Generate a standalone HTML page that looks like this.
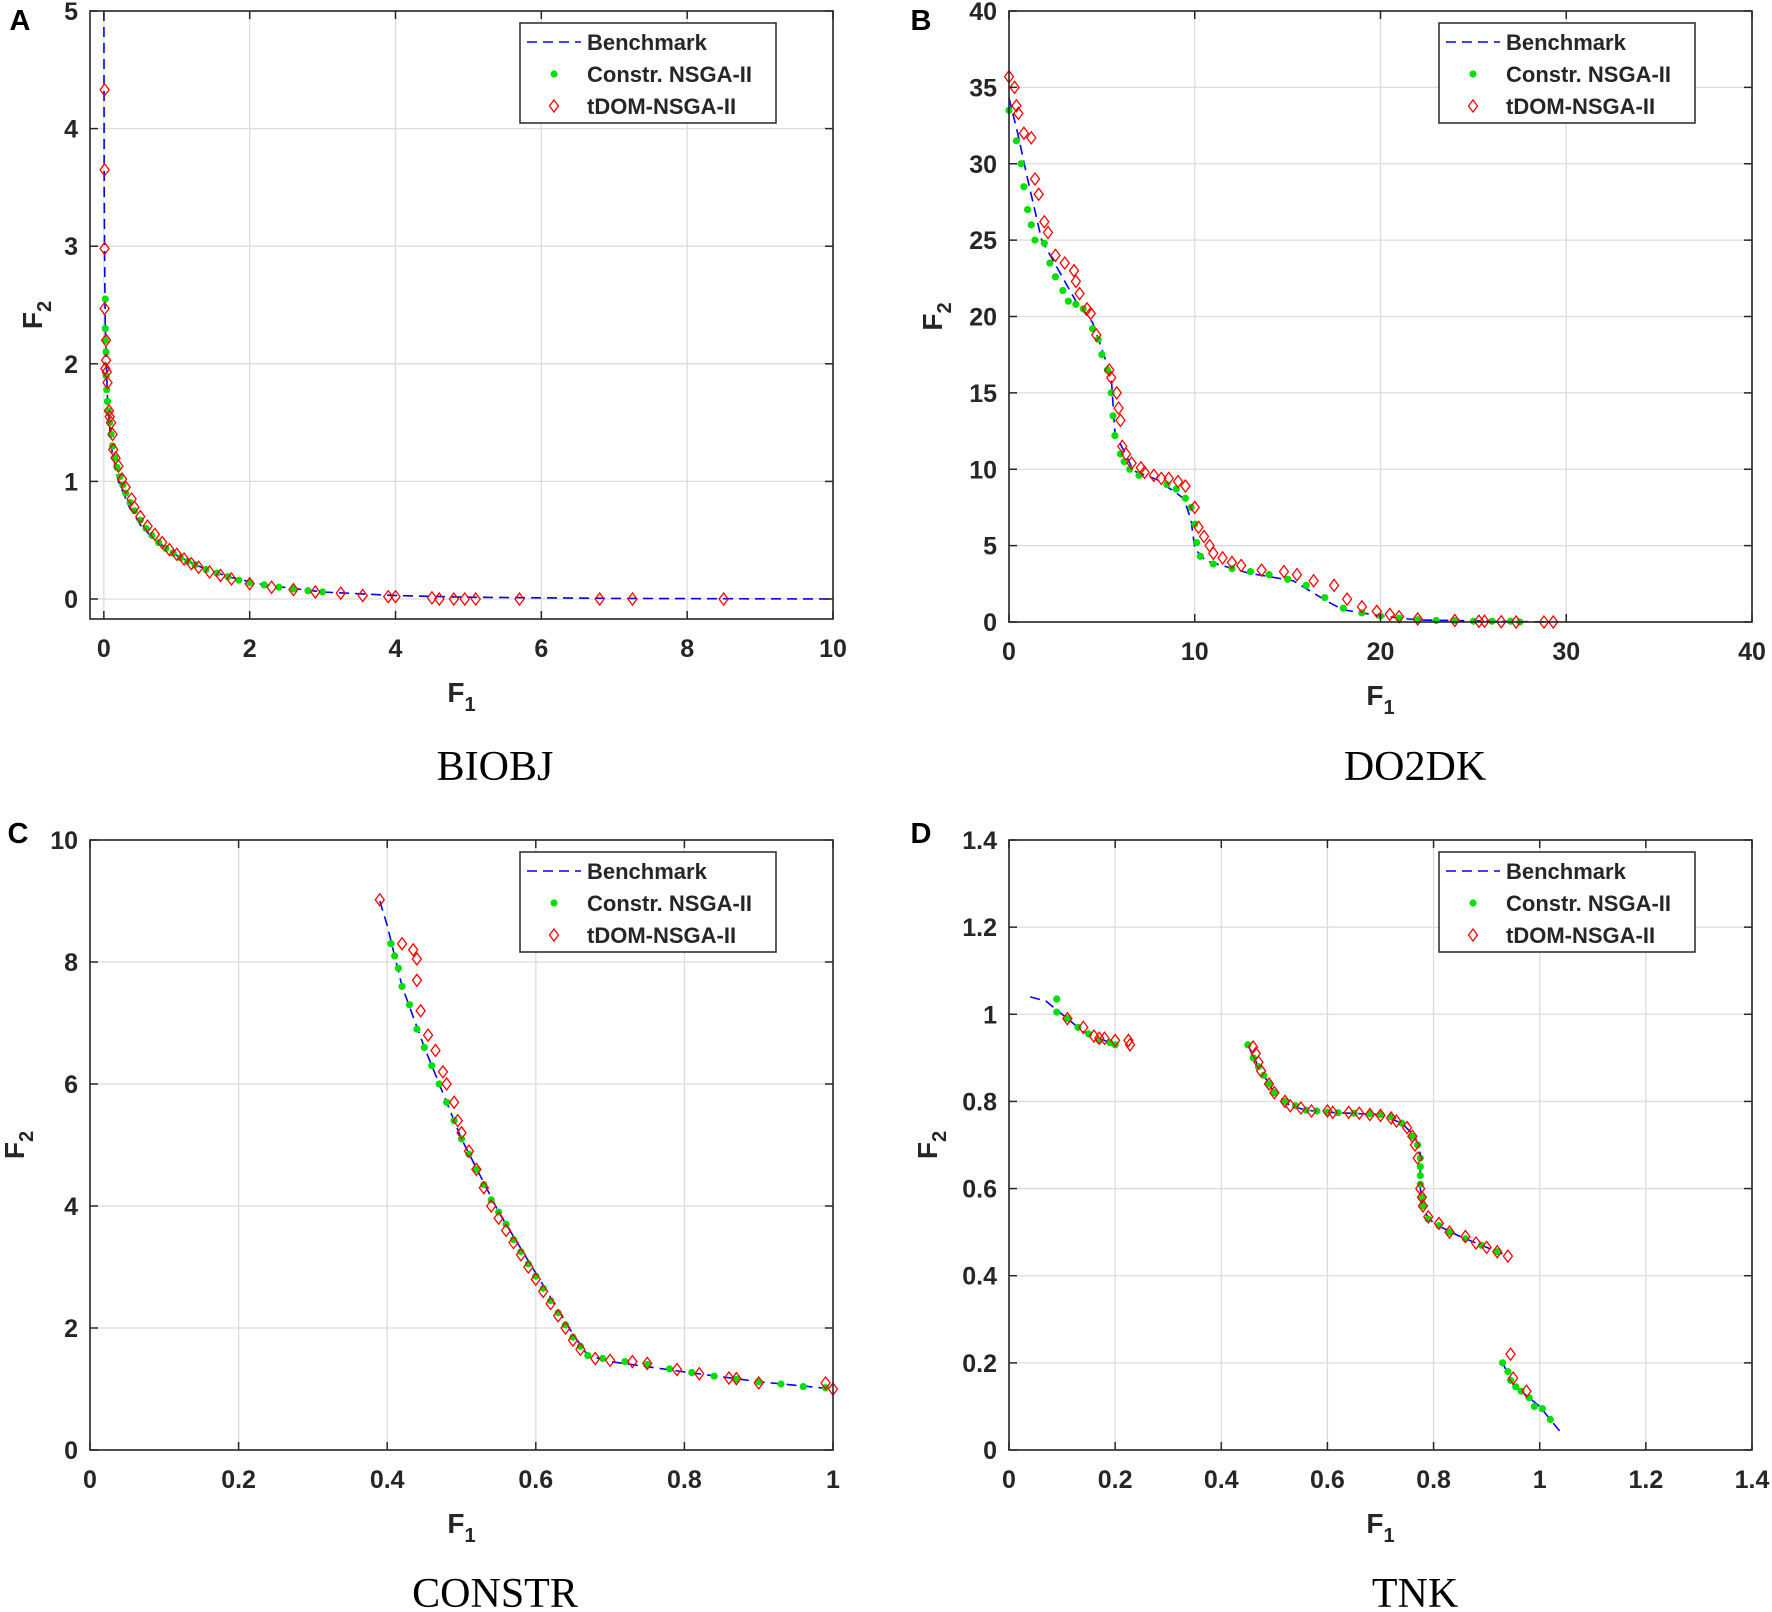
<!DOCTYPE html>
<html><head><meta charset="utf-8"><style>
html,body{margin:0;padding:0;background:#fff}
svg{display:block}
text{font-family:"Liberation Sans",sans-serif}
</style></head><body>
<svg id="fig" width="1772" height="1612" viewBox="0 0 1772 1612" xmlns="http://www.w3.org/2000/svg"></svg>
<script>
// ---------- DATA ----------
const biobjBench = [[0,5],[0.005,3.5],[0.01,2.9],[0.02,2.3],[0.05,1.7],[0.1,1.3],[0.2,1.0],[0.35,0.78],[0.5,0.63],[0.7,0.5],[1,0.37],[1.3,0.28],[1.7,0.19],[2.2,0.12],[3,0.06],[4,0.03],[5,0.015],[7,0.005],[10,0]];
const biobjGreen = [[0.02,2.55],[0.02,2.3],[0.02,2.2],[0.03,2.1],[0.03,1.9],[0.04,1.78],[0.05,1.68],[0.06,1.6],[0.08,1.5],[0.1,1.4],[0.12,1.3],[0.15,1.2],[0.18,1.12],[0.22,1.04],[0.26,0.97],[0.3,0.9],[0.36,0.82],[0.42,0.75],[0.5,0.67],[0.58,0.6],[0.66,0.54],[0.75,0.48],[0.85,0.43],[0.95,0.39],[1.05,0.35],[1.15,0.32],[1.25,0.29],[1.4,0.25],[1.55,0.22],[1.7,0.19],[1.85,0.16],[2.0,0.14],[2.2,0.12],[2.4,0.1],[2.6,0.085],[2.8,0.07],[3.0,0.06]];
const biobjRed = [[0.01,4.33],[0.01,3.65],[0.01,2.98],[0.01,2.47],[0.03,2.2],[0.03,2.03],[0.02,1.96],[0.04,1.93],[0.05,1.84],[0.07,1.6],[0.08,1.55],[0.1,1.5],[0.12,1.4],[0.13,1.27],[0.16,1.2],[0.2,1.13],[0.25,1.02],[0.3,0.95],[0.38,0.85],[0.42,0.78],[0.5,0.7],[0.6,0.62],[0.7,0.55],[0.8,0.48],[0.9,0.42],[1.0,0.38],[1.1,0.34],[1.2,0.3],[1.3,0.27],[1.45,0.23],[1.6,0.2],[1.75,0.17],[2.0,0.13],[2.3,0.1],[2.6,0.08],[2.9,0.06],[3.25,0.05],[3.55,0.03],[3.9,0.02],[4.0,0.02],[4.5,0.01],[4.6,0],[4.8,0],[4.95,0],[5.1,0],[5.7,0],[6.8,0],[7.25,0],[8.5,0]];

const do2dkBench = [[0,34.3],[0.47,32],[1,29],[1.76,25],[3.6,21],[4.5,19.6],[5.5,16.1],[5.7,12.4],[6.7,9.9],[8,9.3],[9.4,8.1],[9.8,6.7],[10,4.8],[10.6,4],[12.9,3.2],[15.3,2.7],[17.2,1.3],[18,0.8],[20,0.4],[22,0.13],[29,0]];
const do2dkGreen = [[0,33.5],[0.4,31.5],[0.65,30],[0.8,28.5],[1.0,27],[1.2,26],[1.4,25],[1.9,24.8],[2.2,23.5],[2.5,22.6],[2.9,21.7],[3.2,21],[3.6,20.8],[4.0,20.5],[4.5,19.2],[4.8,18.5],[5.0,17.5],[5.3,16.5],[5.5,15],[5.6,13.5],[5.7,12.2],[6.0,11],[6.2,10.5],[6.5,10],[7.0,9.6],[8.5,9.0],[9.0,8.7],[9.5,8.1],[9.8,7.5],[10.0,6.4],[10.1,5.2],[10.3,4.3],[11,3.8],[12,3.5],[13,3.3],[14,3.1],[15,2.8],[16,2.4],[17,1.6],[18,0.9],[19,0.6],[20,0.4],[21,0.25],[22,0.15],[23,0.1],[24,0.1],[25,0.05],[26,0.05],[27,0.05],[27.5,0]];
const do2dkRed = [[0,35.7],[0.3,35],[0.4,33.8],[0.5,33.3],[0.8,32],[1.2,31.7],[1.4,29],[1.6,28],[1.9,26.2],[2.1,25.5],[2.5,24],[3,23.5],[3.5,23],[3.6,22.3],[3.8,21.5],[4.2,20.5],[4.4,20.2],[4.7,18.8],[5.4,16.5],[5.5,16],[5.8,15],[5.9,14],[6.0,13.2],[6.1,11.5],[6.3,11],[6.6,10.4],[7.1,10.1],[7.3,9.8],[7.8,9.6],[8.2,9.4],[8.6,9.4],[9.1,9.2],[9.5,8.9],[10,7.5],[10.2,6.2],[10.5,5.6],[10.8,5.0],[11,4.5],[11.5,4.2],[12,3.9],[12.5,3.7],[13.6,3.4],[14.8,3.3],[15.5,3.1],[16.4,2.7],[17.5,2.4],[18.2,1.5],[19,1.0],[19.8,0.7],[20.5,0.5],[21,0.35],[22,0.2],[24,0.1],[25.3,0.05],[25.6,0.05],[26.5,0.02],[27.3,0],[28.8,0],[29.3,0]];

const constrBench = [[0.39,9.0],[0.4,8.6],[0.42,7.6],[0.45,6.6],[0.5,5.1],[0.55,3.9],[0.6,2.9],[0.65,1.9],[0.67,1.55],[0.7,1.45],[0.8,1.28],[0.9,1.12],[1,1.0]];
const constrGreen = [[0.405,8.3],[0.41,8.1],[0.415,7.9],[0.42,7.6],[0.43,7.3],[0.44,6.9],[0.45,6.6],[0.46,6.3],[0.47,6.0],[0.48,5.7],[0.49,5.4],[0.5,5.1],[0.51,4.85],[0.52,4.6],[0.53,4.35],[0.54,4.1],[0.55,3.9],[0.56,3.7],[0.57,3.45],[0.58,3.25],[0.59,3.05],[0.6,2.85],[0.61,2.65],[0.62,2.45],[0.63,2.25],[0.64,2.05],[0.65,1.85],[0.66,1.7],[0.67,1.55],[0.69,1.5],[0.72,1.45],[0.75,1.4],[0.78,1.33],[0.81,1.27],[0.84,1.21],[0.87,1.16],[0.9,1.12],[0.93,1.08],[0.96,1.04],[0.99,1.02]];
const constrRed = [[0.39,9.02],[0.42,8.3],[0.435,8.2],[0.44,8.05],[0.44,7.7],[0.445,7.2],[0.455,6.8],[0.465,6.55],[0.475,6.2],[0.48,6.0],[0.49,5.7],[0.495,5.4],[0.5,5.2],[0.51,4.9],[0.52,4.6],[0.53,4.3],[0.54,4.0],[0.55,3.8],[0.56,3.6],[0.57,3.4],[0.58,3.2],[0.59,3.0],[0.6,2.8],[0.61,2.6],[0.62,2.4],[0.63,2.2],[0.64,2.0],[0.65,1.8],[0.66,1.65],[0.68,1.5],[0.7,1.47],[0.73,1.45],[0.75,1.42],[0.79,1.32],[0.82,1.25],[0.86,1.18],[0.87,1.17],[0.9,1.1],[0.99,1.1],[1.0,1.0]];

const tnkBench = [[0.04,1.04],[0.07,1.03],[0.1,1.0],[0.14,0.96],[0.2,0.93],null,[0.45,0.93],[0.47,0.88],[0.5,0.82],[0.53,0.79],[0.56,0.78],[0.6,0.775],[0.7,0.77],[0.74,0.75],[0.765,0.72],[0.775,0.68],[0.775,0.6],[0.78,0.55],[0.8,0.52],[0.85,0.49],[0.93,0.45],null,[0.93,0.2],[0.95,0.15],[0.98,0.12],[1.0,0.1],[1.04,0.04]];
const tnkGreen = [[0.09,1.035],[0.09,1.005],[0.11,0.99],[0.13,0.97],[0.15,0.955],[0.17,0.94],[0.19,0.935],[0.2,0.93],[0.45,0.93],[0.46,0.9],[0.47,0.88],[0.48,0.86],[0.49,0.84],[0.5,0.82],[0.52,0.8],[0.54,0.79],[0.56,0.78],[0.58,0.778],[0.6,0.775],[0.62,0.774],[0.65,0.773],[0.68,0.772],[0.7,0.77],[0.72,0.765],[0.74,0.75],[0.76,0.72],[0.77,0.7],[0.775,0.67],[0.775,0.65],[0.775,0.63],[0.775,0.61],[0.778,0.58],[0.78,0.56],[0.79,0.53],[0.81,0.515],[0.83,0.5],[0.86,0.485],[0.89,0.47],[0.92,0.455],[0.93,0.2],[0.94,0.18],[0.945,0.16],[0.955,0.145],[0.965,0.135],[0.98,0.12],[0.99,0.1],[1.005,0.095],[1.02,0.07]];
const tnkRed = [[0.11,0.99],[0.14,0.97],[0.16,0.95],[0.17,0.945],[0.18,0.945],[0.2,0.94],[0.225,0.94],[0.228,0.93],[0.46,0.925],[0.465,0.91],[0.47,0.89],[0.475,0.87],[0.49,0.84],[0.5,0.82],[0.52,0.8],[0.53,0.79],[0.55,0.785],[0.57,0.778],[0.6,0.778],[0.61,0.775],[0.64,0.775],[0.66,0.773],[0.68,0.77],[0.7,0.768],[0.72,0.762],[0.73,0.755],[0.75,0.74],[0.76,0.72],[0.765,0.7],[0.77,0.67],[0.775,0.6],[0.778,0.58],[0.78,0.56],[0.79,0.535],[0.81,0.52],[0.83,0.5],[0.86,0.49],[0.88,0.475],[0.9,0.465],[0.92,0.455],[0.94,0.445],[0.945,0.22],[0.95,0.165],[0.975,0.135]];

const biobjXTicks = [0,2,4,6,8,10];
const biobjYTicks = [0,1,2,3,4,5];
const do2dkXTicks = [0,10,20,30,40];
const do2dkYTicks = [0,5,10,15,20,25,30,35,40];
const constrXTicks = [0,0.2,0.4,0.6,0.8,1];
const constrYTicks = [0,2,4,6,8,10];
const tnkXTicks = [0,0.2,0.4,0.6,0.8,1,1.2,1.4];
const tnkYTicks = [0,0.2,0.4,0.6,0.8,1,1.2,1.4];
const panelTitles = ["BIOBJ","DO2DK","CONSTR","TNK"];
const panelLetters = ["A","B","C","D"];
const legendLabels = ["Benchmark","Constr. NSGA-II","tDOM-NSGA-II"];

// ---------- DRAW ----------
const NS = "http://www.w3.org/2000/svg";
const svg = document.getElementById("fig");
function mk(tag, attrs, parent){
  const e = document.createElementNS(NS, tag);
  for (const k in attrs) e.setAttribute(k, attrs[k]);
  (parent||svg).appendChild(e);
  return e;
}
const panels = [
  {key:"biobj", L:90, R:833, T:11, B:619, xmin:-0.19, xmax:10, ymin:-0.17, ymax:5, xt:biobjXTicks, yt:biobjYTicks, bench:biobjBench, green:biobjGreen, red:biobjRed, letterX:20, letterY:30, f2x:32, titleX:495, titleY:780},
  {key:"do2dk", L:1009, R:1752, T:11, B:622, xmin:0, xmax:40, ymin:0, ymax:40, xt:do2dkXTicks, yt:do2dkYTicks, bench:do2dkBench, green:do2dkGreen, red:do2dkRed, letterX:921, letterY:30, f2x:932, titleX:1415, titleY:780},
  {key:"constr", L:90, R:833, T:840, B:1450, xmin:0, xmax:1, ymin:0, ymax:10, xt:constrXTicks, yt:constrYTicks, bench:constrBench, green:constrGreen, red:constrRed, letterX:18, letterY:843, f2x:14, titleX:495, titleY:1607},
  {key:"tnk", L:1009, R:1752, T:840, B:1450, xmin:0, xmax:1.4, ymin:0, ymax:1.4, xt:tnkXTicks, yt:tnkYTicks, bench:tnkBench, green:tnkGreen, red:tnkRed, letterX:921, letterY:843, f2x:927, titleX:1415, titleY:1607}
];
panels.forEach((p, i) => {
  const g = mk("g", {});
  
  
  const sx = v => p.L + (v - p.xmin) / (p.xmax - p.xmin) * (p.R - p.L);
  const sy = v => p.B - (v - p.ymin) / (p.ymax - p.ymin) * (p.B - p.T);
  // grid
  p.xt.forEach(t => {
    const l = mk("line", {x1:sx(t), x2:sx(t), y1:p.T, y2:p.B, stroke:"#dcdcdc", "stroke-width":1.3}, g);
    
    
  });
  p.yt.forEach(t => {
    const l = mk("line", {x1:p.L, x2:p.R, y1:sy(t), y2:sy(t), stroke:"#dcdcdc", "stroke-width":1.3}, g);
    
    
  });
  // benchmark line
  let d = "", pen = false;
  p.bench.forEach(pt => {
    if (!pt) { pen = false; return; }
    d += (pen ? "L" : "M") + sx(pt[0]).toFixed(1) + " " + sy(pt[1]).toFixed(1);
    pen = true;
  });
  const bl = mk("path", {d:d, fill:"none", stroke:"#0000ff", "stroke-width":1.6, "stroke-dasharray":"10 6"}, g);
  
  
  // green dots
  p.green.forEach(pt => {
    const c = mk("circle", {cx:sx(pt[0]), cy:sy(pt[1]), r:3.6, fill:"#00e000"}, g);
    
    
  });
  // red diamonds
  p.red.forEach(pt => {
    const x = sx(pt[0]), y = sy(pt[1]);
    const dm = mk("path", {d:`M${x} ${y-6}L${x+4.5} ${y}L${x} ${y+6}L${x-4.5} ${y}Z`, fill:"none", stroke:"#ff0000", "stroke-width":1.3}, g);
    
    
  });
  // axes box
  const bx = mk("rect", {x:p.L, y:p.T, width:p.R-p.L, height:p.B-p.T, fill:"none", stroke:"#262626", "stroke-width":1.6}, g);
  
  
  // ticks + labels
  p.xt.forEach(t => {
    const x = sx(t);
    mk("line", {x1:x, x2:x, y1:p.B, y2:p.B-8, stroke:"#262626", "stroke-width":1.5}, g);
    mk("line", {x1:x, x2:x, y1:p.T, y2:p.T+8, stroke:"#262626", "stroke-width":1.5}, g);
    const tx = mk("text", {x:x, y:p.B+38, "text-anchor":"middle", "font-size":25, "font-weight":"bold", fill:"#262626"}, g);
    tx.textContent = String(t);
    
    
  });
  p.yt.forEach(t => {
    const y = sy(t);
    mk("line", {x1:p.L, x2:p.L+8, y1:y, y2:y, stroke:"#262626", "stroke-width":1.5}, g);
    mk("line", {x1:p.R, x2:p.R-8, y1:y, y2:y, stroke:"#262626", "stroke-width":1.5}, g);
    const ty = mk("text", {x:p.L-12, y:y+9, "text-anchor":"end", "font-size":25, "font-weight":"bold", fill:"#262626"}, g);
    ty.textContent = String(t);
    
    
  });
  // axis labels
  const cx = (p.L + p.R) / 2;
  const xl = mk("text", {x:cx, y:p.B+83, "text-anchor":"middle", "font-size":28, "font-weight":"bold", fill:"#262626"}, g);
  xl.innerHTML = 'F<tspan font-size="20" dy="9">1</tspan>';
  
  
  const cy = (p.T + p.B) / 2;
  const yl = mk("text", {x:0, y:0, "text-anchor":"middle", "font-size":28, "font-weight":"bold", fill:"#262626", transform:`translate(${p.f2x+10},${cy}) rotate(-90)`}, g);
  yl.innerHTML = 'F<tspan font-size="20" dy="9">2</tspan>';
  
  
  // panel letter
  const lt = mk("text", {x:p.letterX, y:p.letterY, "text-anchor":"middle", "font-size":29, "font-weight":"bold", fill:"#000"}, g);
  lt.textContent = panelLetters[i];
  
  
  // title
  const tt = mk("text", {x:p.titleX, y:p.titleY, "text-anchor":"middle", "font-size":42, fill:"#000", "font-family":"Liberation Serif, serif"}, g);
  tt.setAttribute("style", "font-family:'Liberation Serif',serif");
  tt.textContent = panelTitles[i];
  
  
  // legend
  const lx = p.L + 430, ly = p.T + 12;
  const lg = mk("g", {}, g);
  
  
  mk("rect", {x:lx, y:ly, width:256, height:100, fill:"#fff", stroke:"#262626", "stroke-width":1.5}, lg);
  const rows = [ly+19, ly+51, ly+83];
  mk("line", {x1:lx+7, x2:lx+61, y1:rows[0], y2:rows[0], stroke:"#0000ff", "stroke-width":1.6, "stroke-dasharray":"10 6"}, lg);
  mk("circle", {cx:lx+34, cy:rows[1], r:3.6, fill:"#00e000"}, lg);
  const mx = lx+34, my = rows[2];
  mk("path", {d:`M${mx} ${my-6}L${mx+4.5} ${my}L${mx} ${my+6}L${mx-4.5} ${my}Z`, fill:"none", stroke:"#ff0000", "stroke-width":1.3}, lg);
  legendLabels.forEach((s, k) => {
    const le = mk("text", {x:lx+67, y:rows[k]+8, "font-size":22, "font-weight":"bold", fill:"#262626"}, lg);
    le.textContent = s;
    
    
  });
});
</script>
</body></html>
